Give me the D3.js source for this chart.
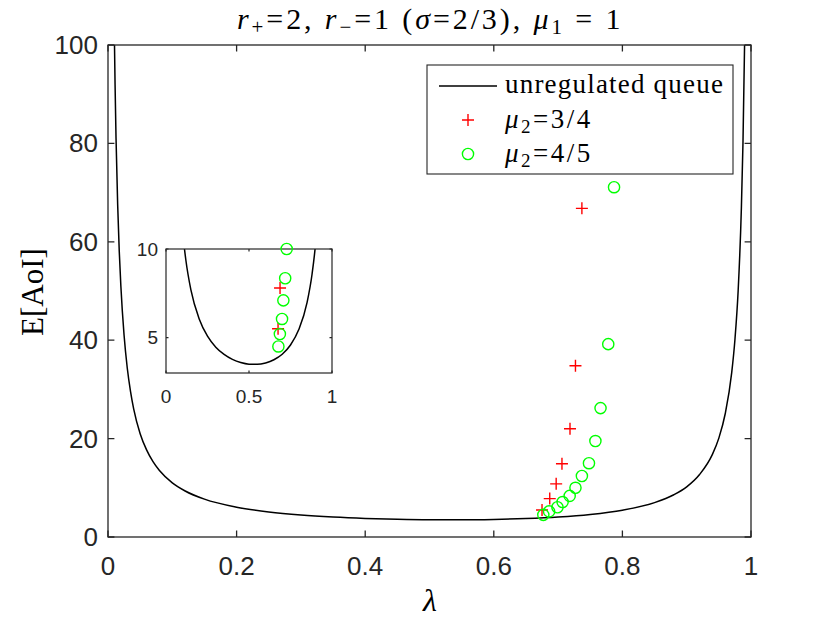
<!DOCTYPE html>
<html>
<head>
<meta charset="utf-8">
<script src="https://cdn.jsdelivr.net/npm/d3@7"></script>
<style>
  body { margin: 0; background: #fff; }
  svg { display: block; }
  .tick-label { font-family: "Liberation Sans", Arial, sans-serif; fill: #262626; }
  .tex { font-family: "Liberation Serif", "DejaVu Serif", serif; fill: #000; }
</style>
</head>
<body>
<svg class="aoi-chart" width="830" height="623"></svg>
<script>
// unregulated queue, E[AoI]
const lambdaVals = [0.0095, 0.01, 0.011, 0.0125, 0.015, 0.0175, 0.02, 0.025, 0.03, 0.035, 0.04, 0.05,
  0.06, 0.07, 0.08, 0.1, 0.12, 0.15, 0.2, 0.25, 0.3, 0.35, 0.4, 0.45, 0.5, 0.55, 0.6, 0.65, 0.7,
  0.75, 0.8, 0.85, 0.88, 0.9, 0.92, 0.94, 0.95, 0.96, 0.97, 0.975, 0.98, 0.985, 0.9875, 0.99, 0.9925]
const aoiVals = [106.3, 101, 91.9, 81, 67.7, 58.1, 51, 41, 34.3, 29.6, 26, 21,
  17.7, 15.3, 13.5, 11.0, 9.35, 7.69, 6.05, 5.08, 4.46, 4.05, 3.77, 3.59, 3.5, 3.49, 3.57, 3.75, 4.06,
  4.58, 5.45, 6.99, 8.59, 10.2, 12.7, 16.8, 20.1, 25.1, 33.4, 40.1, 50.0, 66.7, 80.0, 100.0, 133.3]

// mu2 = 3/4 (red +)
const redLambda = [0.675, 0.687, 0.697, 0.706, 0.7185, 0.727, 0.737]
const redAoi = [5.5, 7.8, 10.8, 14.9, 22.0, 34.8, 66.8]

// mu2 = 4/5 (green o)
const greenLambda = [0.677, 0.686, 0.699, 0.707, 0.718, 0.727, 0.737, 0.748, 0.758, 0.766, 0.778, 0.787]
const greenAoi = [4.5, 5.2, 6.05, 7.1, 8.35, 10.0, 12.4, 15.0, 19.5, 26.2, 39.2, 71.1]

const xTicks = [0, 0.2, 0.4, 0.6, 0.8, 1]
const yTicks = [0, 20, 40, 60, 80, 100]
const insetXTicks = [0, 0.5, 1]
const insetYTicks = [5, 10]

const curveData = lambdaVals.map((l, i) => ({l: l, v: aoiVals[i]}))
const redData = redLambda.map((l, i) => ({l: l, v: redAoi[i]}))
const greenData = greenLambda.map((l, i) => ({l: l, v: greenAoi[i]}))

const svg = d3.select('svg.aoi-chart')
const axisColor = '#262626'

function panel(opts){
  const x = d3.scaleLinear().domain(opts.xDomain).range([opts.left, opts.right])
  const y = d3.scaleLinear().domain(opts.yDomain).range([opts.bottom, opts.top])
  const g = svg.append('g').attr('class', opts.name)

  g.append('rect')
    .attr('x', opts.left).attr('y', opts.top)
    .attr('width', opts.right - opts.left).attr('height', opts.bottom - opts.top)
    .attr('fill', '#fff')

  g.append('clipPath').attr('id', 'clip-' + opts.name)
    .append('rect')
    .attr('x', opts.left).attr('y', opts.top)
    .attr('width', opts.right - opts.left).attr('height', opts.bottom - opts.top)

  const plot = g.append('g').attr('clip-path', `url(#clip-${opts.name})`)

  const line = d3.line()
    .x(d => x(d.l))
    .y(d => y(d.v))
    .curve(d3.curveMonotoneX)

  plot.append('path')
    .datum(curveData)
    .attr('d', line)
    .attr('fill', 'none')
    .attr('stroke', '#000')
    .attr('stroke-width', 1.5)

  const marks = svg.append('g')
  const arm = 6
  marks.selectAll('path.plus')
    .data(redData.filter(d => d.v >= opts.yDomain[0] && d.v <= opts.yDomain[1]))
    .join('path')
    .attr('class', 'plus')
    .attr('d', d => `M${x(d.l) - arm},${y(d.v)}h${arm * 2}M${x(d.l)},${y(d.v) - arm}v${arm * 2}`)
    .attr('stroke', '#ff0000')
    .attr('stroke-width', 1.4)
    .attr('fill', 'none')

  marks.selectAll('circle')
    .data(greenData.filter(d => d.v >= opts.yDomain[0] && d.v <= opts.yDomain[1] + 0.1))
    .join('circle')
    .attr('cx', d => x(d.l))
    .attr('cy', d => y(d.v))
    .attr('r', 5.6)
    .attr('fill', 'none')
    .attr('stroke', '#00ff00')
    .attr('stroke-width', 1.4)

  // axes, box with inward ticks on all four sides
  const tl = opts.tickLen
  const ax = g.append('g').attr('stroke', axisColor).attr('stroke-width', opts.axisWidth).attr('fill', 'none')
  ax.append('rect')
    .attr('x', opts.left).attr('y', opts.top)
    .attr('width', opts.right - opts.left).attr('height', opts.bottom - opts.top)
  opts.xTicks.forEach(t => {
    ax.append('path').attr('d', `M${x(t)},${opts.bottom}v${-tl}M${x(t)},${opts.top}v${tl}`)
  })
  opts.yTicks.forEach(t => {
    ax.append('path').attr('d', `M${opts.left},${y(t)}h${tl}M${opts.right},${y(t)}h${-tl}`)
  })

  g.selectAll('text.xt')
    .data(opts.xTicks)
    .join('text')
    .attr('class', 'tick-label xt')
    .attr('x', d => x(d))
    .attr('y', opts.bottom + opts.xLabelGap)
    .attr('text-anchor', 'middle')
    .attr('dominant-baseline', 'central')
    .attr('font-size', opts.fontSize)
    .text(d => d3.format('~g')(d))

  g.selectAll('text.yt')
    .data(opts.yTicks)
    .join('text')
    .attr('class', 'tick-label yt')
    .attr('x', opts.left - opts.yLabelGap)
    .attr('y', d => y(d))
    .attr('text-anchor', 'end')
    .attr('dominant-baseline', 'central')
    .attr('font-size', opts.fontSize)
    .text(d => d)

  svg.node().appendChild(marks.node())
  return {x, y}
}

panel({name: 'main', xDomain: [0, 1], yDomain: [0, 100], left: 108, right: 751, top: 45, bottom: 537,
  xTicks: xTicks, yTicks: yTicks, tickLen: 6.4, axisWidth: 1.3, fontSize: 26, xLabelGap: 29, yLabelGap: 10})

// legend
const leg = svg.append('g')
leg.append('rect').attr('x', 427).attr('y', 65).attr('width', 306).attr('height', 109)
  .attr('fill', '#fff').attr('stroke', axisColor).attr('stroke-width', 1.1)
leg.append('path').attr('d', 'M439,86H497').attr('stroke', '#000').attr('stroke-width', 1.5)
leg.append('path').attr('d', 'M462,120h12M468,114v12').attr('stroke', '#ff0000').attr('stroke-width', 1.4)
leg.append('circle').attr('cx', 468).attr('cy', 154).attr('r', 5.6)
  .attr('fill', 'none').attr('stroke', '#00ff00').attr('stroke-width', 1.4)

const legText = (yy, ls) => leg.append('text').attr('class', 'tex').attr('x', 505).attr('y', yy)
  .attr('font-size', 27).attr('letter-spacing', ls)
legText(92.5, 1.2).text('unregulated queue')
const l2 = legText(127.5, 2.5)
l2.append('tspan').attr('font-style', 'italic').text('μ')
l2.append('tspan').attr('font-size', 19).attr('dy', 5).text('2')
l2.append('tspan').attr('dy', -5).text('=3/4')
const l3 = legText(161.5, 2.5)
l3.append('tspan').attr('font-style', 'italic').text('μ')
l3.append('tspan').attr('font-size', 19).attr('dy', 5).text('2')
l3.append('tspan').attr('dy', -5).text('=4/5')

// inset
panel({name: 'inset', xDomain: [0, 1], yDomain: [3, 10], left: 166, right: 332, top: 249, bottom: 373,
  xTicks: insetXTicks, yTicks: insetYTicks, tickLen: 2.5, axisWidth: 1.2, fontSize: 19, xLabelGap: 23, yLabelGap: 8})

// title
const title = svg.append('text').attr('class', 'tex').attr('x', 237).attr('y', 28.5)
  .attr('font-size', 30).attr('letter-spacing', 2.9)
title.append('tspan').attr('font-style', 'italic').text('r')
title.append('tspan').attr('font-size', 21).attr('dy', 5).text('+')
title.append('tspan').attr('dy', -5).text('=2, ')
title.append('tspan').attr('font-style', 'italic').text('r')
title.append('tspan').attr('font-size', 21).attr('dy', 5).text('−')
title.append('tspan').attr('dy', -5).text('=1 (')
title.append('tspan').attr('font-style', 'italic').text('σ')
title.append('tspan').text('=2/3), ')
title.append('tspan').attr('font-style', 'italic').text('μ')
title.append('tspan').attr('font-size', 21).attr('dy', 5).text('1')
title.append('tspan').attr('dy', -5).text(' = 1')

// axis labels
svg.append('text').attr('class', 'tex').attr('x', 430).attr('y', 611)
  .attr('text-anchor', 'middle').attr('font-size', 32).attr('font-style', 'italic').text('λ')
svg.append('text').attr('class', 'tex')
  .attr('transform', 'translate(43,292) rotate(-90)')
  .attr('text-anchor', 'middle').attr('font-size', 31).text('E[AoI]')
</script>
</body>
</html>
